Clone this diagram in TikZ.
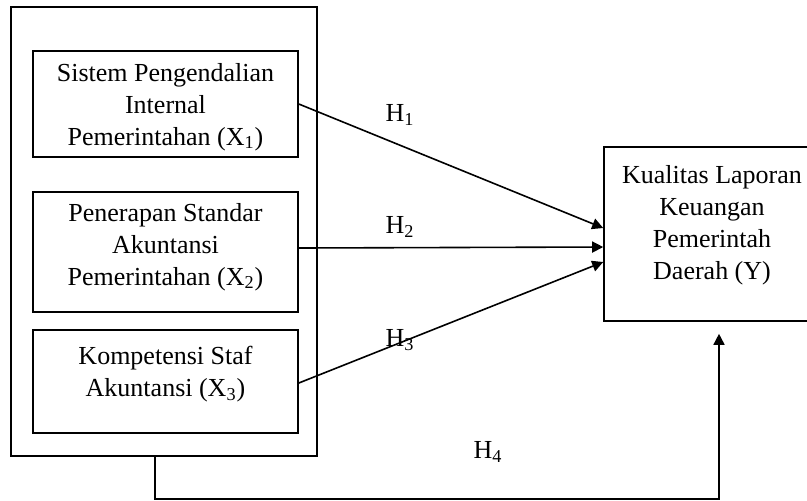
\documentclass[tikz,border=0pt]{standalone}
\usepackage{fontspec}
\setmainfont{Liberation Serif}
\usetikzlibrary{arrows.meta}

\tikzset{
  varbox/.style={draw, line width=0.8pt, align=center, inner sep=2pt, font=\fontsize{13}{16}\selectfont},
  hyp/.style={font=\fontsize{13}{16}\selectfont},
  conn/.style={line width=0.8pt, -{Triangle[length=5.5pt,width=5.5pt]}}
}

\begin{document}
\begin{tikzpicture}[x=0.5pt,y=-0.5pt]
        \useasboundingbox (0,0) rectangle (807,500);

        % Draw the outer group
        \node[draw, line width=0.8pt, minimum width=153pt, minimum height=224.5pt] (grp) at (164,231.5) {};

        % Draw the variable boxes
        \node[varbox, minimum width=132.5pt, minimum height=53pt, text depth=0pt] (x1) at (165.5,104) {Sistem Pengendalian\\Internal\\Pemerintahan (X\textsubscript{1})};
        \node[varbox, minimum width=132.5pt, minimum height=60pt, text depth=8pt] (x2) at (165.5,252) {Penerapan Standar\\Akuntansi\\Pemerintahan (X\textsubscript{2})};
        \node[varbox, minimum width=132.5pt, minimum height=51.5pt, text depth=10pt] (x3) at (165.5,381.5) {Kompetensi Staf\\Akuntansi (X\textsubscript{3})};
        \node[varbox, minimum width=108pt, minimum height=87pt, text depth=12pt] (y) at (712,234) {Kualitas Laporan\\Keuangan\\Pemerintah\\Daerah (Y)};

        % Add the hypothesis labels
        \node[hyp] (h1) at (400,115) {H\textsubscript{1}};
        \node[hyp] (h2) at (400,227) {H\textsubscript{2}};
        \node[hyp] (h3) at (400,340) {H\textsubscript{3}};
        \node[hyp] (h4) at (488,452) {H\textsubscript{4}};

        % Draw the arrows
        \draw[conn] (x1.east) -- ([yshift=3pt]y.west);
        \draw[conn] ([yshift=2pt]x2.east) -- ([yshift=-6.5pt]y.west);
        \draw[conn] ([yshift=-0.75pt]x3.east) -- ([yshift=-14pt]y.west);
        \draw[conn] ([xshift=-4.5pt]grp.south) -- ++(0,42) -| ([xshift=3.5pt,yshift=-6pt]y.south);
    \end{tikzpicture}
\end{document}
